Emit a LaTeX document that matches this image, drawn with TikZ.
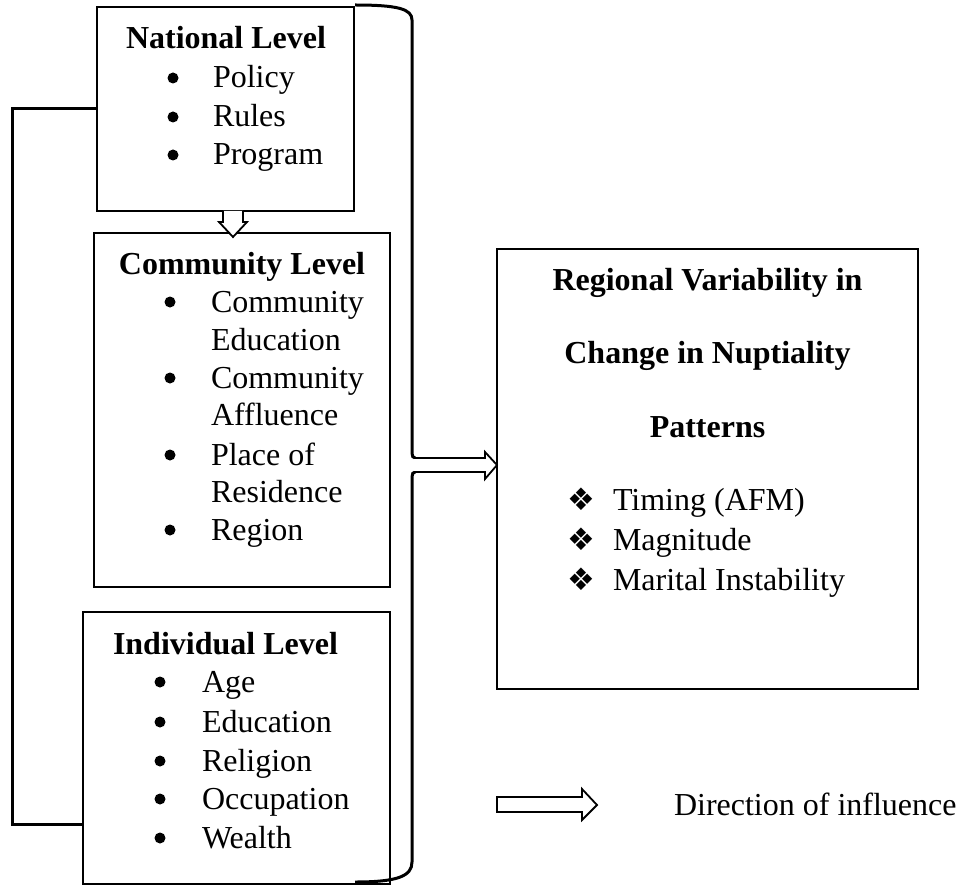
\documentclass[tikz,border=0pt]{standalone}
\usepackage{fontspec}
\setmainfont{Liberation Serif}
\newfontfamily\symfont{DejaVu Sans}
\begin{document}
\begin{tikzpicture}[x=1pt,y=-1pt,
  box/.style={draw, line width=1.8pt, anchor=north west, inner sep=0, outer sep=0},
  txt/.style={inner sep=0, outer sep=0, font=\fontsize{32}{38}\selectfont},
  title/.style={txt, font=\fontsize{32}{38}\selectfont\bfseries, anchor=base},
  item/.style={txt, anchor=base west},
  bul/.style={circle, fill=black, inner sep=0, outer sep=0, minimum size=11pt},
  dia/.style={inner sep=0, outer sep=0, font=\symfont\fontsize{31}{34}\selectfont, anchor=base},
  heavy/.style={line width=3pt},
  hollow/.style={draw, fill=white, line width=1.8pt, line join=miter}
]
\useasboundingbox (0,0) rectangle (965,885);

% boxes
\node[box, minimum width=257, minimum height=204] (nat) at (97,7) {};
\node[box, minimum width=296, minimum height=354] (com) at (94,233) {};
\node[box, minimum width=307, minimum height=272] (ind) at (83,612) {};
\node[box, line width=2.4pt, minimum width=421, minimum height=440] (res) at (497,249) {};

% National
\node[title] (natT) at (226,49) {National Level};
\foreach \y/\t [count=\i] in {88/Policy,127/Rules,165/Program}{
  \node[bul] (nb\i) at (173,\y-10) {};
  \node[item] (ni\i) at (213,\y) {\t};
}

% Community
\node[title] (comT) at (242,274) {Community Level};
\foreach \y [count=\i] in {312,388,465,540}{
  \node[bul] (cb\i) at (170,\y-10) {};
}
\foreach \y/\t [count=\i] in {312/Community,350/Education,388/Community,425/Affluence,465/Place of,502/Residence,540/Region}{
  \node[item] (ci\i) at (211,\y) {\t};
}

% Individual
\node[title, anchor=base west] (indT) at (113,654) {Individual Level};
\foreach \y/\t [count=\i] in {692/Age,732/Education,771/Religion,809/Occupation,848/Wealth}{
  \node[bul] (ib\i) at (160,\y-10) {};
  \node[item] (ii\i) at (202,\y) {\t};
}

% Result box
\node[title] (r1) at (707.5,290) {Regional Variability in};
\node[title] (r2) at (707.5,363) {Change in Nuptiality};
\node[title] (r3) at (707.5,437) {Patterns};
\foreach \y/\t [count=\i] in {510/Timing (AFM),550/Magnitude,590/Marital Instability}{
  \node[dia] (rd\i) at (581,\y) {❖};
  \node[item] (ri\i) at (613,\y) {\t};
}

% down arrow National -> Community
\draw[hollow] (223,211) -- (223,222) -- (219,222) -- (233,237) -- (247,222) -- (243,222) -- (243,211);

% bracket
\draw[heavy] (355,5) .. controls (398,5) and (412,9) .. (412,20) -- (412,453)
  .. controls (412,456) and (413,458) .. (415,458);
\draw[heavy] (415,472) .. controls (413,472) and (412,474) .. (412,477) -- (412,862)
  .. controls (412,876) and (398,882) .. (355,882);

% right arrow to result box
\coordinate (tip) at (res.west |- 0,465);
\draw[hollow] (414,458) -- (485,458) -- (485,452) -- (tip) -- (485,479) -- (485,472) -- (414,472);

% left feedback line
\coordinate (lc1) at (12,109);
\coordinate (lc2) at (12,824);
\draw[heavy, line join=miter] (nat.west) -- (lc1) -- (lc2) -- (ind.west |- lc2);

% legend
\draw[hollow] (497,797) -- (582,797) -- (582,789) -- (597,805) -- (582,820) -- (582,812) -- (497,812) -- cycle;
\node[item] (leg) at (674,815) {Direction of influence};
\end{tikzpicture}
\end{document}
